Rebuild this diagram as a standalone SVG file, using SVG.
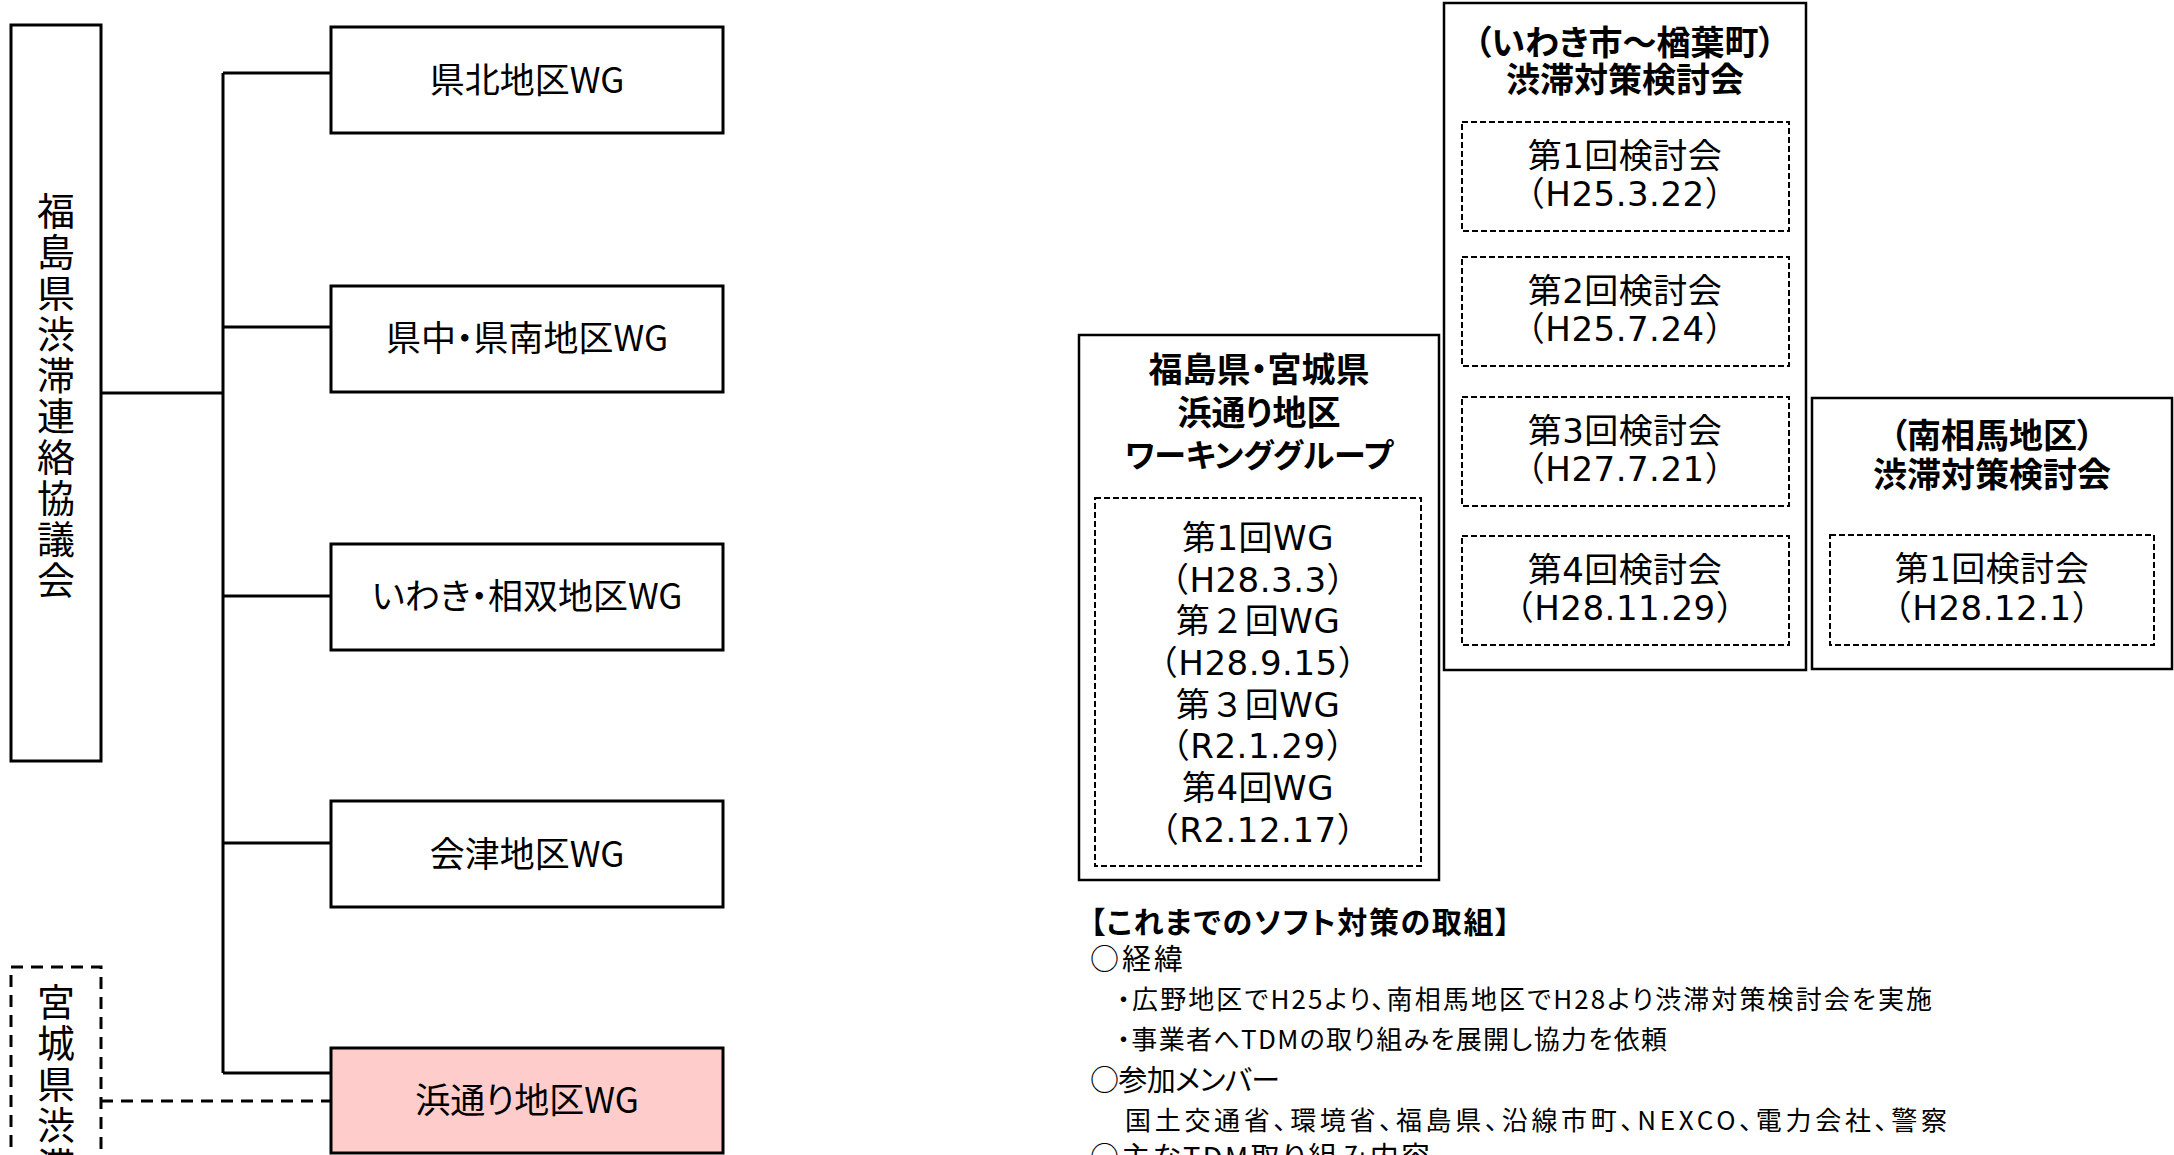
<svg xmlns="http://www.w3.org/2000/svg" width="2174" height="1155" viewBox="0 0 2174 1155">
<style>
.box{fill:#fff;stroke:#000;stroke-width:3}
.pink{fill:#ffcccc;stroke:#000;stroke-width:3}
.dbox{fill:none;stroke:#000;stroke-width:3;stroke-dasharray:12 8}
.obox{fill:#fff;stroke:#000;stroke-width:2.5}
.ibox{fill:none;stroke:#000;stroke-width:2;stroke-dasharray:6 3}
.ln{fill:none;stroke:#000;stroke-width:3}
.dln{fill:none;stroke:#000;stroke-width:3;stroke-dasharray:12 8}
text{font-family:"Noto Sans CJK JP",sans-serif;fill:#000}
.p{font-feature-settings:"palt"}
.wg{font-size:35px;text-anchor:middle;font-feature-settings:"palt"}
.vt{font-size:38px;writing-mode:vertical-rl;letter-spacing:3px}
.tt{font-size:34px;font-weight:700;text-anchor:middle;font-feature-settings:"palt"}
.it{font-family:"DejaVu Sans","Noto Sans CJK JP",sans-serif;font-size:34px;text-anchor:middle;letter-spacing:0.5px}
.hd{font-size:30px;font-weight:700;font-feature-settings:"palt"}
.b1{font-size:29px;font-feature-settings:"palt"}
.b2{font-size:26px;font-feature-settings:"palt"}
</style>
<g id="connectors">
<line class="ln" x1="101" y1="393" x2="223" y2="393"/>
<line class="ln" x1="223" y1="73" x2="223" y2="1073"/>
<line class="ln" x1="223" y1="73" x2="331" y2="73"/>
<line class="ln" x1="223" y1="327" x2="331" y2="327"/>
<line class="ln" x1="223" y1="596" x2="331" y2="596"/>
<line class="ln" x1="223" y1="843" x2="331" y2="843"/>
<line class="ln" x1="223" y1="1073" x2="331" y2="1073"/>
<line class="dln" x1="101" y1="1101" x2="331" y2="1101"/>
</g>
<g id="fukushima-council">
<rect class="box" x="11" y="25" width="90" height="736"/>
<text class="vt" writing-mode="tb" x="56" y="192">福島県渋滞連絡協議会</text>
</g>
<g id="miyagi-council">
<rect class="dbox" x="11" y="967" width="90" height="220"/>
<text class="vt" writing-mode="tb" x="56" y="983">宮城県渋滞</text>
</g>
<g id="wg-kenpoku">
<rect class="box" x="331" y="27" width="392" height="106"/>
<text class="wg" x="527" y="93">県北地区WG</text>
</g>
<g id="wg-kenchu">
<rect class="box" x="331" y="286" width="392" height="106"/>
<text class="wg" x="527" y="351">県中・県南地区WG</text>
</g>
<g id="wg-iwaki">
<rect class="box" x="331" y="544" width="392" height="106"/>
<text class="wg" x="527" y="609">いわき・相双地区WG</text>
</g>
<g id="wg-aizu">
<rect class="box" x="331" y="801" width="392" height="106"/>
<text class="wg" x="527" y="867">会津地区WG</text>
</g>
<g id="wg-hamadori">
<rect class="pink" x="331" y="1048" width="392" height="105"/>
<text class="wg" x="527" y="1113">浜通り地区WG</text>
</g>
<g id="hamadori-wg-box">
<rect class="obox" x="1079" y="335" width="360" height="545"/>
<text class="tt" x="1259" y="382">福島県・宮城県</text>
<text class="tt" x="1259" y="425">浜通り地区</text>
<text class="tt" x="1259" y="467" style="font-size:32px">ワーキンググループ</text>
<rect class="ibox" x="1095" y="498" width="326" height="368"/>
<text class="it"><tspan x="1258" y="550">第1回WG</tspan><tspan x="1258" y="592">（H28.3.3）</tspan><tspan x="1258" y="633">第２回WG</tspan><tspan x="1258" y="675">（H28.9.15）</tspan><tspan x="1258" y="717">第３回WG</tspan><tspan x="1258" y="758">（R2.1.29）</tspan><tspan x="1258" y="800">第4回WG</tspan><tspan x="1258" y="842">（R2.12.17）</tspan></text>
</g>
<g id="iwaki-naraha-box">
<rect class="obox" x="1444" y="3" width="362" height="667"/>
<text class="tt" x="1625" y="55">（いわき市～楢葉町）</text>
<text class="tt" x="1625" y="92">渋滞対策検討会</text>
<rect class="ibox" x="1462" y="122" width="327" height="109"/>
<text class="it"><tspan x="1625" y="168">第1回検討会</tspan><tspan x="1625" y="206">（H25.3.22）</tspan></text>
<rect class="ibox" x="1462" y="257" width="327" height="109"/>
<text class="it"><tspan x="1625" y="303">第2回検討会</tspan><tspan x="1625" y="341">（H25.7.24）</tspan></text>
<rect class="ibox" x="1462" y="397" width="327" height="109"/>
<text class="it"><tspan x="1625" y="443">第3回検討会</tspan><tspan x="1625" y="481">（H27.7.21）</tspan></text>
<rect class="ibox" x="1462" y="536" width="327" height="109"/>
<text class="it"><tspan x="1625" y="582">第4回検討会</tspan><tspan x="1625" y="620">（H28.11.29）</tspan></text>
</g>
<g id="minamisoma-box">
<rect class="obox" x="1812" y="398" width="360" height="271"/>
<text class="tt" x="1992" y="448">（南相馬地区）</text>
<text class="tt" x="1992" y="487">渋滞対策検討会</text>
<rect class="ibox" x="1830" y="535" width="324" height="110"/>
<text class="it"><tspan x="1992" y="581">第1回検討会</tspan><tspan x="1992" y="620">（H28.12.1）</tspan></text>
</g>
<g id="notes">
<text class="hd" x="1090" y="933" textLength="420" lengthAdjust="spacing">【これまでのソフト対策の取組】</text>
<text class="b1" x="1090" y="970" textLength="93" lengthAdjust="spacing">○経緯</text>
<text class="b2" x="1117" y="1009" textLength="815" lengthAdjust="spacing">・広野地区でH25より、南相馬地区でH28より渋滞対策検討会を実施</text>
<text class="b2" x="1117" y="1049" textLength="550" lengthAdjust="spacing">・事業者へTDMの取り組みを展開し協力を依頼</text>
<text class="b1" x="1090" y="1091" textLength="190" lengthAdjust="spacing">○参加メンバー</text>
<text class="b2" x="1125" y="1130" textLength="822" lengthAdjust="spacing">国土交通省、環境省、福島県、沿線市町、NEXCO、電力会社、警察</text>
<text class="b1" x="1090" y="1168" textLength="340" lengthAdjust="spacing">○主なTDM取り組み内容</text>
</g>
</svg>
